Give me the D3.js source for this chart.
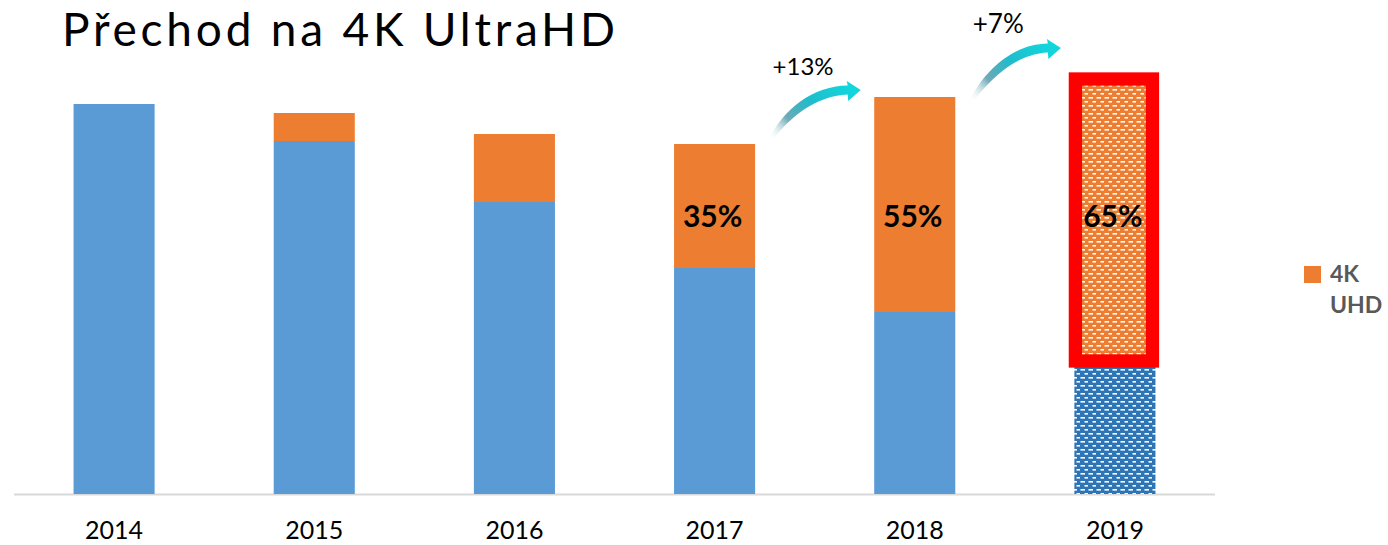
<!DOCTYPE html>
<html><head><meta charset="utf-8">
<script src="https://cdn.jsdelivr.net/npm/d3@7"></script>
<style>html,body{margin:0;padding:0;background:#fff;}</style>
</head><body>
<svg id="c" width="1388" height="545"></svg>
<script>
const years = ["2014","2015","2016","2017","2018","2019"];
const otherValues = [390, 353, 292, 226, 182, 133];
const uhdValues = [0, 28, 68, 124, 215, 282];
const shareLabels = ["", "", "", "35%", "55%", "65%"];
const growthFrom = ["2017", "2018"];
const growthTo = ["2018", "2019"];
const growthText = ["+13%", "+7%"];
const titleText = "Přechod na 4K UltraHD";
const legendLabel = ["4K", "UHD"];

const svg = d3.select("#c");
const plotL = 14, plotR = 1215, base = 494;
const x = d3.scaleBand().domain(years).range([plotL, plotR]).paddingInner(0.595).paddingOuter(0.2975);
const y = d3.scaleLinear().domain([0, 420]).range([base, 74]);
const bw = x.bandwidth();
const FONT = "Lato, sans-serif";

const defs = svg.append("defs");
function brick(id, bg){
  const p = defs.append("pattern").attr("id", id).attr("patternUnits","userSpaceOnUse")
    .attr("width", 8).attr("height", 8);
  p.append("rect").attr("width",8).attr("height",8).attr("fill",bg);
  p.append("rect").attr("x",0.5).attr("y",1).attr("width",4.5).attr("height",1.6).attr("fill","#fff");
  p.append("rect").attr("x",4.5).attr("y",5).attr("width",4.5).attr("height",1.6).attr("fill","#fff");
}
brick("pBlue", "#2E75B6");
brick("pOrange", "#ED7D31");
const grad = defs.append("linearGradient").attr("id","arrowGrad")
  .attr("x1","0").attr("y1","1").attr("x2","1").attr("y2","0.3");
grad.append("stop").attr("offset","0%").attr("stop-color","#ffffff").attr("stop-opacity",0);
grad.append("stop").attr("offset","30%").attr("stop-color","#3E8FA0").attr("stop-opacity",0.75);
grad.append("stop").attr("offset","60%").attr("stop-color","#20BCCB").attr("stop-opacity",1);
grad.append("stop").attr("offset","100%").attr("stop-color","#12D6DC").attr("stop-opacity",1);

svg.append("line").attr("x1",plotL).attr("x2",plotR).attr("y1",base+0.5).attr("y2",base+0.5)
  .attr("stroke","#D9D9D9").attr("stroke-width",2);

const last = years.length - 1;
svg.selectAll("rect.other").data(years).join("rect").attr("class","other")
  .attr("x", d => x(d)).attr("width", bw)
  .attr("y", (d,i) => y(otherValues[i])).attr("height", (d,i) => base - y(otherValues[i]))
  .attr("fill", (d,i) => i === last ? "url(#pBlue)" : "#5B9BD5");
svg.selectAll("rect.uhd").data(years.filter((d,i)=>uhdValues[i]>0)).join("rect").attr("class","uhd")
  .each(function(d){
    const i = years.indexOf(d);
    const y0 = y(otherValues[i]), y1 = y(otherValues[i] + uhdValues[i]);
    const r = d3.select(this).attr("x", x(d)).attr("width", bw).attr("y", y1).attr("height", y0 - y1);
    if (i === last) r.attr("x", x(d) + 1).attr("width", bw - 4)
      .attr("fill","url(#pOrange)").attr("stroke","#FF0000").attr("stroke-width",13.3);
    else r.attr("fill","#ED7D31");
  });

svg.selectAll("text.share").data(years).join("text").attr("class","share")
  .attr("x", d => x(d) + bw/2 - 2)
  .attr("y", 227)
  .attr("text-anchor","middle").attr("font-family",FONT).attr("font-weight","bold")
  .attr("font-size", 30).attr("fill","#000")
  .text((d,i) => shareLabels[i]);

svg.selectAll("text.year").data(years).join("text").attr("class","year")
  .attr("x", d => x(d) + bw/2).attr("y", 539)
  .attr("text-anchor","middle").attr("font-family",FONT).attr("font-size",25).attr("fill","#000")
  .text(d => d);

const headDy = [-7, -31], tailDy = [48, 52], textDy = [-15, -15], textSize = [24, 26];
growthTo.forEach((to, k) => {
  const top = y(otherValues[years.indexOf(to)] + uhdValues[years.indexOf(to)]);
  const tx = x(growthFrom[k]) + bw + 14.5;
  const tipx = x(to) - 13.5, hy = top + headDy[k];
  const ty = hy + tailDy[k];
  const bx = tipx - 14;
  const path = `M${tx},${ty} C${tx+14},${ty-28} ${tx+42},${hy-4} ${bx+1},${hy-4.5}
    L${bx},${hy-9} L${tipx},${hy} L${bx+1.5},${hy+11} L${bx+1},${hy+4.5}
    C${tx+45},${hy+6} ${tx+20},${ty-20} ${tx+3},${ty+2} Z`;
  svg.append("path").attr("d", path).attr("fill","url(#arrowGrad)");
  svg.append("text").attr("x", tx + 3).attr("y", hy + textDy[k]).attr("font-family",FONT)
    .attr("font-size",textSize[k]).attr("fill","#000").text(growthText[k]);
});

svg.append("text").attr("x",62).attr("y",46).attr("font-family",FONT)
  .attr("font-size",46).attr("fill","#000")
  .attr("textLength",553).attr("lengthAdjust","spacing").text(titleText);

svg.append("rect").attr("x",1304).attr("y",266).attr("width",17).attr("height",17).attr("fill","#ED7D31");
svg.selectAll("text.leg").data(legendLabel).join("text").attr("class","leg")
  .attr("x", 1330).attr("y", (d,i) => 282 + i*31)
  .attr("font-family",FONT).attr("font-weight","bold").attr("font-size",23).attr("fill","#595959")
  .text(d => d);
</script>
</body></html>
